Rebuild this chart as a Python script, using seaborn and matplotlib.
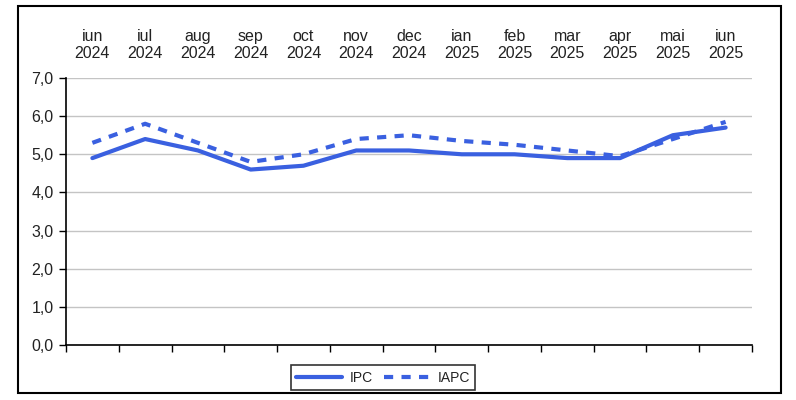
import matplotlib
matplotlib.use("Agg")
import matplotlib.pyplot as plt
import numpy as np
import pandas as pd
import seaborn as sns
from matplotlib.patches import Rectangle
from matplotlib.ticker import FuncFormatter, FixedLocator

months = ["iun\n2024", "iul\n2024", "aug\n2024", "sep\n2024", "oct\n2024",
          "nov\n2024", "dec\n2024", "ian\n2025", "feb\n2025", "mar\n2025",
          "apr\n2025", "mai\n2025", "iun\n2025"]
ipc = [4.9, 5.4, 5.1, 4.6, 4.7, 5.1, 5.1, 5.0, 5.0, 4.9, 4.9, 5.5, 5.7]
iapc = [5.3, 5.8, 5.3, 4.8, 5.0, 5.4, 5.5, 5.35, 5.25, 5.1, 4.95, 5.4, 5.85]

blue = "#3a60e0"

sns.set_theme(style="white")
plt.rcParams["font.family"] = ["Liberation Sans", "DejaVu Sans"]

df = pd.DataFrame({"pos": np.arange(len(months)), "IPC": ipc, "IAPC": iapc})

fig = plt.figure(figsize=(7.96, 4.0), dpi=100)
ax = fig.add_axes([66 / 796, 1 - 345 / 400, (752 - 66) / 796, (345 - 78) / 400])

sns.lineplot(data=df, x="pos", y="IPC", ax=ax, color=blue, linewidth=3,
             label="IPC")
sns.lineplot(data=df, x="pos", y="IAPC", ax=ax, color=blue, linewidth=3,
             label="IAPC", dashes=False, linestyle=(0, (2.2, 2.0)))

ax.set_xlim(-0.5, len(months) - 0.5)
ax.set_ylim(0, 7)
ax.set_yticks(np.arange(0, 7.5, 1))
ax.yaxis.set_major_formatter(FuncFormatter(lambda v, _: f"{v:.1f}".replace(".", ",")))
ax.grid(axis="y", color="#c4c4c4", linewidth=1)
ax.set_axisbelow(True)

ax.set_xticks(np.arange(len(months)))
ax.set_xticklabels(months)
ax.xaxis.set_minor_locator(FixedLocator(np.arange(-0.5, len(months), 1)))
ax.tick_params(axis="x", which="major", top=True, labeltop=True, bottom=False,
               labelbottom=False, length=0, pad=12, labelsize=11.5, colors="#222222")
ax.tick_params(axis="x", which="minor", bottom=True, top=False, length=5,
               width=1, color="black", direction="out")
ax.tick_params(axis="y", left=True, length=5, width=1, color="black",
               labelsize=11.5, labelcolor="#222222", pad=4)

for side in ["top", "right"]:
    ax.spines[side].set_visible(False)
for side in ["left", "bottom"]:
    ax.spines[side].set_color("black")
    ax.spines[side].set_linewidth(1.2)

ax.set_xlabel("")
ax.set_ylabel("")
ax.get_legend().remove()

handles, labels = ax.get_legend_handles_labels()
leg = fig.legend(handles, labels, loc="center", ncol=2,
                 bbox_to_anchor=(383 / 796, 1 - 377.5 / 400),
                 bbox_transform=fig.transFigure, frameon=True, fancybox=False,
                 edgecolor="black", fontsize=10, handlelength=3.3,
                 handletextpad=0.55, columnspacing=0.8, borderpad=0.4,
                 labelcolor="#222222")
leg.get_frame().set_linewidth(1.2)

fig.patches.append(Rectangle((18 / 796, 1 - 393 / 400), (781 - 18) / 796,
                             (393 - 6) / 400, transform=fig.transFigure,
                             fill=False, edgecolor="black", linewidth=1.5))

fig.savefig("out.png", dpi=100)
